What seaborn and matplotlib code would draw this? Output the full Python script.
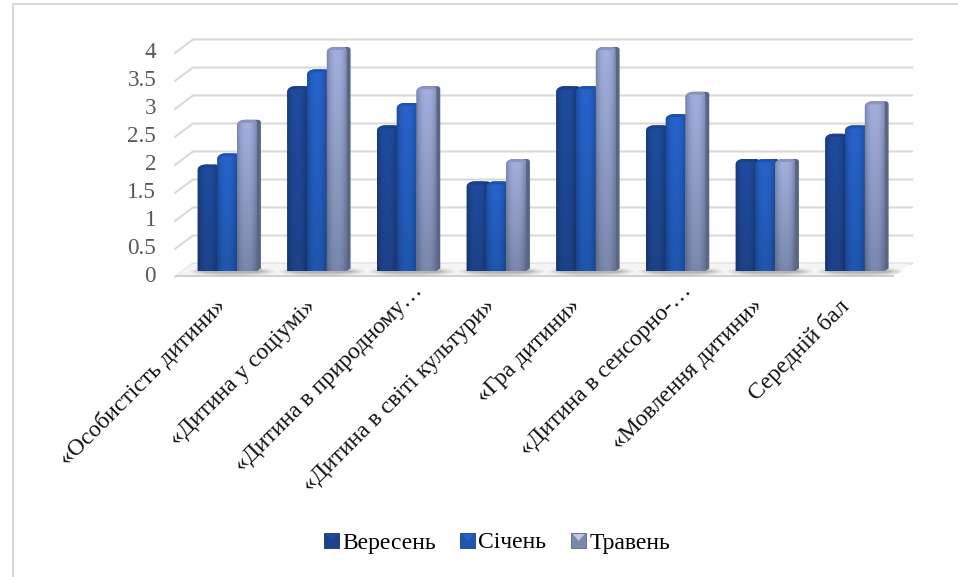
import numpy as np
import pandas as pd
import matplotlib
matplotlib.use('Agg')
import matplotlib.pyplot as plt
from matplotlib.patches import Patch, Polygon, Ellipse, Rectangle
from matplotlib.colors import to_rgb
from matplotlib.legend_handler import HandlerBase
from matplotlib.transforms import ScaledTranslation
import seaborn as sns

categories = ['«Особистість дитини»', '«Дитина у соціумі»', '«Дитина в природному…',
              '«Дитина в світі культури»', '«Гра дитини»', '«Дитина в сенсорно-…',
              '«Мовлення дитини»', 'Середній бал']
veresen = [1.9, 3.3, 2.6, 1.6, 3.3, 2.6, 2.0, 2.45]
sichen = [2.1, 3.6, 3.0, 1.6, 3.3, 2.8, 2.0, 2.6]
traven = [2.7, 4.0, 3.3, 2.0, 4.0, 3.2, 2.0, 3.03]
series_names = ['Вересень', 'Січень', 'Травень']
yticks = [0, 0.5, 1, 1.5, 2, 2.5, 3, 3.5, 4]
ytick_labels = ['0', '0.5', '1', '1.5', '2', '2.5', '3', '3.5', '4']

front = ['#1f4c9e', '#2663cc', '#a2afdd']
bottom = ['#1c4288', '#1f56ae', '#7a88ae']
side = ['#16346e', '#1a3f86', '#5a6688']
cap = ['#1a4088', '#1f52b0', '#8a94bc']

W, H = 958, 577
sns.set_theme(style='white')
plt.rcParams['font.family'] = ['Liberation Serif', 'DejaVu Serif']

df = pd.DataFrame({'category': categories, 'Вересень': veresen, 'Січень': sichen, 'Травень': traven})
df = df.melt(id_vars='category', var_name='month', value_name='value')

fig = plt.figure(figsize=(W / 100, H / 100), dpi=100)
# рамка: лише зліва і зверху, далі картинка обрізана
fig.add_artist(plt.Line2D([13 / W, 13 / W, 1], [0, (H - 3.5) / H, (H - 3.5) / H], color='#d9d9d9', lw=1.5,
                          transform=fig.transFigure))

px_x = 89.67
px_y = 56.0
left = 182.5
y0 = 271.0
ax = fig.add_axes([left / W, (H - y0) / H, 8 * px_x / W, 4 * px_y / H])
ax.patch.set_alpha(0)
sns.barplot(data=df, x='category', y='value', hue='month', hue_order=series_names, order=categories,
            palette=front, width=0.66, gap=0, dodge=True, saturation=1, legend=False, ax=ax, zorder=3)
for s in ax.spines.values():
    s.set_visible(False)
ax.set_xlabel('')
ax.set_ylabel('')
ax.grid(False)

dx = lambda p: p / px_x
dy = lambda p: p / px_y

# сітка і підлога (псевдо-3D)
x_front, x_back, x_end, x_floor = -0.5 - dx(7.5), -0.5 + dx(10.5), 7.5 + dx(12.5), 7.5 - dx(6)
for v in yticks:
    ax.plot([x_front, x_back, x_end], [v - dy(6), v + dy(7.5), v + dy(7.5)], color='#d9d9d9', lw=1.5,
            clip_on=False, zorder=1)
ax.add_patch(Polygon([(x_front, -dy(5)), (x_back, dy(7.5)), (x_floor + dx(17), dy(7.5)), (x_floor, -dy(5))],
                     closed=True, fc='#f4f4f4', ec='none', clip_on=False, zorder=1.1))
ax.add_patch(Rectangle((x_front, -dy(6)), x_floor - x_front, dy(1.6), fc='#d0d0d0', ec='none', clip_on=False,
                       zorder=1.2))

bars = [p for p in ax.patches if isinstance(p, Rectangle) and p.get_height() > 0 and p.get_zorder() == 3]
n = len(categories)

# тінь під групами
for g in range(n):
    for a, extra in zip([0.10, 0.12, 0.15, 0.2], [13, 9, 5, 2]):
        ax.add_patch(Ellipse((g + dx(5), -dy(0.5)), 0.66 + dx(2 * extra), dy(3 + extra * 0.5), fc='#707070',
                             alpha=a, ec='none', clip_on=False, zorder=1.3))


# об'ємні стовпчики: силует з боковою гранню + передня грань з градієнтом
def silhouette(x, w, h, depth, rx=8, ry=5):
    t = np.linspace(0, np.pi / 2, 12)
    pts = [(x, 0)]
    pts += [(x + dx(rx) * (1 - np.cos(a)), h - dy(ry) * (1 - np.sin(a))) for a in t]
    pts += [(x + w + depth - dx(3) * (1 - np.cos(a)), h - dy(3) * (1 - np.sin(a))) for a in t[::-1]]
    pts += [(x + w + depth, dy(2.5)), (x + w, 0)]
    return pts


for i, p in enumerate(bars):
    k = i // n
    x, w, h = p.get_x(), p.get_width(), p.get_height()
    p.set_visible(False)
    z = 3 + k * 0.1
    depth = dx(4)
    ax.add_patch(Polygon(silhouette(x, w, h, depth), closed=True, fc=side[k], ec='none', zorder=z, clip_on=False))
    ax.add_patch(Polygon(silhouette(x, w, h, 0), closed=True, fc=cap[k], ec='none', zorder=z + 0.005, clip_on=False))
    # градієнт: зверху вниз і затемнення до країв
    vert = np.linspace(0, 1, 64)[:, None, None]
    c = (1 - vert) * np.array(to_rgb(front[k])) + vert * np.array(to_rgb(bottom[k]))
    shade = 1 - 0.22 * np.abs(np.linspace(-1, 1, 24)) ** 2.5
    img = np.clip(c * shade[None, :, None], 0, 1)
    clip = Polygon(silhouette(x, w, h - dy(3), 0, rx=5, ry=3), closed=True, transform=ax.transData)
    im = ax.imshow(img, extent=(x, x + w, 0, h - dy(3)), aspect='auto', zorder=z + 0.01, interpolation='bilinear')
    im.set_clip_path(clip)

ax.set_xlim(-0.5, 7.5)
ax.set_ylim(0, 4)

ax.set_yticks(yticks)
ax.set_yticklabels(ytick_labels, fontsize=16.7, color='#595959')
ax.tick_params(axis='y', length=0, pad=19)
for lab in ax.get_yticklabels():
    lab.set_transform(lab.get_transform() + ScaledTranslation(0, -0.035, fig.dpi_scale_trans))

# зсув підписів: ті, що обрізані "…", у Excel стоять вище і правіше
label_shift = [(1.5, 0), (1.5, 0), (19, 15), (1.5, 0), (-3, 0), (19, 15), (0, 0), (-3, 0)]
ax.set_xticks(range(n))
ax.set_xticklabels(categories, rotation=45, ha='right', va='center', rotation_mode='anchor', fontsize=17,
                   color='#111111')
ax.tick_params(axis='x', length=0, pad=23)
for lab, (sx, sy) in zip(ax.get_xticklabels(), label_shift):
    lab.set_transform(lab.get_transform() + ScaledTranslation((sx - 6) / 100, sy / 100, fig.dpi_scale_trans))


# легенда: квадратик зі світлішим трикутником зверху
class GemHandler(HandlerBase):
    def create_artists(self, legend, orig, xd, yd, width, height, fontsize, trans):
        k = orig.k
        s = height * 1.05
        y = -yd + (height - s) / 2
        r = Rectangle((-xd, y), s, s, fc=bottom[k], ec=side[k], lw=0.6, transform=trans)
        t = Polygon([(-xd + 1, y + s - 1), (-xd + s - 1, y + s - 1), (-xd + s / 2, y + s * 0.45)], closed=True,
                    fc=front[k] if k < 2 else '#c0cae8', ec='none', transform=trans)
        return [r, t]


handles = []
for k in range(3):
    h = Patch(fc=front[k])
    h.k = k
    handles.append(h)
leg = fig.legend(handles, series_names, loc='center', bbox_to_anchor=(497 / W, (H - 543) / H), ncol=3, frameon=False,
                 fontsize=17, handlelength=0.58, handleheight=0.55, handletextpad=0.18, columnspacing=1.05,
                 labelcolor='black', handler_map={Patch: GemHandler()})
leg._legend_handle_box.align = 'top'  # інакше "Січень" без нижніх виносних стрибає вгору

fig.savefig('out.png', dpi=100, facecolor='white')
